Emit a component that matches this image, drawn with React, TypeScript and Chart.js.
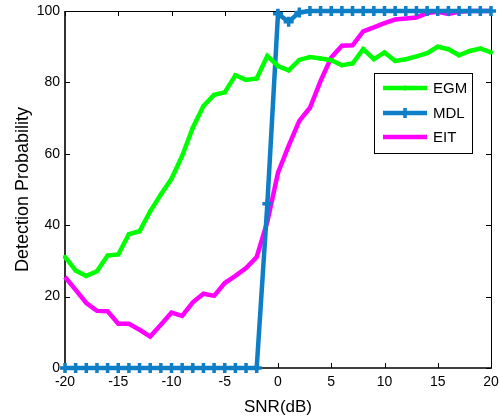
import React, { useEffect, useRef } from 'react';
import { Chart, registerables } from 'chart.js';

Chart.register(...registerables);

const snr = [-20, -19, -18, -17, -16, -15, -14, -13, -12, -11, -10, -9, -8, -7, -6, -5, -4, -3, -2, -1, 0, 1, 2, 3, 4, 5, 6, 7, 8, 9, 10, 11, 12, 13, 14, 15, 16, 17, 18, 19, 20];

const egm = [31.1, 27.3, 25.8, 27.1, 31.5, 31.8, 37.5, 38.3, 43.9, 48.6, 53.0, 59.4, 67.3, 73.4, 76.5, 77.2, 82.0, 80.7, 81.1, 87.4, 84.6, 83.4, 86.3, 87.1, 86.7, 86.2, 84.8, 85.3, 89.3, 86.5, 88.4, 86.0, 86.5, 87.3, 88.2, 90.0, 89.3, 87.6, 88.8, 89.5, 88.4];

const mdl = [0, 0, 0, 0, 0, 0, 0, 0, 0, 0, 0, 0, 0, 0, 0, 0, 0, 0, 0, 46, 99.2, 97, 99.6, 100, 100, 100, 100, 100, 100, 100, 100, 100, 100, 100, 100, 100, 100, 100, 100, 100, 100];

const eit = [25.5, 21.9, 18.2, 16.0, 15.9, 12.4, 12.4, 10.7, 8.8, 12.1, 15.5, 14.6, 18.4, 20.8, 20.2, 23.8, 25.8, 28.0, 31.1, 41.0, 54.7, 62.2, 69.2, 72.9, 80.4, 87.0, 90.3, 90.4, 94.3, 95.4, 96.6, 97.6, 97.9, 98.2, 99.4, 99.8, 99.2, 99.8, 100, 100, 100];

const seriesNames = ['EGM', 'MDL', 'EIT'];
const xTitle = 'SNR(dB)';
const yTitle = 'Detection Probability';

const GREEN = '#00ff00';
const BLUE = '#0e7fc6';
const MAGENTA = '#ff00ff';
const FONT = '"Liberation Sans", Arial, sans-serif';

const toPts = (ys: number[]) => snr.map((x, i) => ({ x, y: ys[i] }));

const frameTicks = {
  id: 'frameTicks',
  beforeDatasetsDraw(chart: any) {
    const { ctx, chartArea: a, scales } = chart;
    ctx.save();
    ctx.strokeStyle = '#000';
    ctx.lineWidth = 1;
    ctx.beginPath();
    ctx.moveTo(a.left, a.top + 0.5);
    ctx.lineTo(a.right + 0.5, a.top + 0.5);
    ctx.lineTo(a.right + 0.5, a.bottom);
    ctx.stroke();
    ctx.lineWidth = 1.6;
    ctx.beginPath();
    ctx.moveTo(a.left, a.top);
    ctx.lineTo(a.left, a.bottom);
    ctx.lineTo(a.right + 1, a.bottom);
    ctx.stroke();
    const L = 5;
    ctx.lineWidth = 1;
    ctx.beginPath();
    scales.x.ticks.forEach((t: any) => {
      const px = Math.round(scales.x.getPixelForValue(t.value)) + 0.5;
      ctx.moveTo(px, a.bottom);
      ctx.lineTo(px, a.bottom - L);
      ctx.moveTo(px, a.top);
      ctx.lineTo(px, a.top + L);
    });
    scales.y.ticks.forEach((t: any) => {
      const py = Math.round(scales.y.getPixelForValue(t.value)) + 0.5;
      ctx.moveTo(a.left, py);
      ctx.lineTo(a.left + L, py);
      ctx.moveTo(a.right, py);
      ctx.lineTo(a.right - L, py);
    });
    ctx.stroke();
    ctx.restore();
  },
};

const boxLegend = {
  id: 'boxLegend',
  afterDraw(chart: any) {
    const { ctx } = chart;
    const bx = 374, by = 73, bw = 98, bh = 80;
    ctx.save();
    ctx.fillStyle = '#fff';
    ctx.fillRect(bx, by, bw, bh);
    ctx.strokeStyle = '#000';
    ctx.lineWidth = 1;
    ctx.strokeRect(bx + 0.5, by + 0.5, bw, bh);
    const rows = [88, 113, 137];
    chart.data.datasets.forEach((ds: any, i: number) => {
      const y = rows[i];
      ctx.strokeStyle = ds.borderColor;
      ctx.lineWidth = 4.5;
      ctx.beginPath();
      ctx.moveTo(383, y);
      ctx.lineTo(427, y);
      ctx.stroke();
      if (i === 0) {
        ctx.fillStyle = ds.borderColor;
        ctx.beginPath();
        ctx.arc(405, y, 2.5, 0, Math.PI * 2);
        ctx.fill();
      } else if (i === 1) {
        ctx.lineWidth = 3.5;
        ctx.beginPath();
        ctx.moveTo(400, y);
        ctx.lineTo(410, y);
        ctx.moveTo(405, y - 5);
        ctx.lineTo(405, y + 5);
        ctx.stroke();
      }
      ctx.fillStyle = '#000';
      ctx.font = `15px ${FONT}`;
      ctx.textBaseline = 'middle';
      ctx.textAlign = 'left';
      ctx.fillText(ds.label, 433, y + 1);
    });
    ctx.restore();
  },
};

export default function App() {
  const ref = useRef<HTMLCanvasElement>(null);
  useEffect(() => {
    if (!ref.current) return;
    const chart = new Chart(ref.current, {
      type: 'line',
      data: {
        datasets: [
          {
            label: seriesNames[0],
            data: toPts(egm),
            borderColor: GREEN,
            backgroundColor: GREEN,
            borderWidth: 4.5,
            pointRadius: 2.2,
            pointBorderWidth: 0,
            pointStyle: 'circle',
            tension: 0,
            clip: false,
          },
          {
            label: seriesNames[1],
            data: toPts(mdl),
            borderColor: BLUE,
            backgroundColor: BLUE,
            borderWidth: 4.5,
            pointRadius: 5,
            pointBorderWidth: 3.5,
            pointStyle: 'cross',
            tension: 0,
            clip: false,
          },
          {
            label: seriesNames[2],
            data: toPts(eit),
            borderColor: MAGENTA,
            backgroundColor: MAGENTA,
            borderWidth: 4.5,
            pointRadius: 0,
            tension: 0,
            clip: false,
          },
        ],
      },
      options: {
        responsive: false,
        animation: false,
        layout: { padding: { left: 0, right: 9, top: 11, bottom: 0 } },
        plugins: { legend: { display: false }, tooltip: { enabled: false } },
        scales: {
          x: {
            type: 'linear',
            min: -20,
            max: 20,
            grid: { display: false, drawTicks: false },
            border: { display: false },
            ticks: { stepSize: 5, color: '#000', padding: 6, maxRotation: 0, font: { family: FONT, size: 14 } },
            title: { display: true, text: xTitle, color: '#000', padding: { top: 0, bottom: 2 }, font: { family: FONT, size: 17 } },
            afterFit: (s: any) => { s.height = 52; s.paddingLeft = 0; s.paddingRight = 0; },
          },
          y: {
            min: 0,
            max: 100,
            grid: { display: false, drawTicks: false },
            border: { display: false },
            ticks: { stepSize: 20, color: '#000', padding: 5, font: { family: FONT, size: 14 } },
            title: { display: true, text: yTitle, color: '#000', padding: { top: 12, bottom: 0 }, font: { family: FONT, size: 18 } },
            afterFit: (s: any) => { s.width = 65; s.paddingTop = 0; s.paddingBottom = 0; },
          },
        },
      },
      plugins: [frameTicks, boxLegend],
    });
    return () => chart.destroy();
  }, []);
  return (
    <div style={{ position: 'absolute', left: 0, top: 0, width: 500, height: 420, background: '#fff' }}>
      <canvas ref={ref} width={500} height={420} />
    </div>
  );
}
